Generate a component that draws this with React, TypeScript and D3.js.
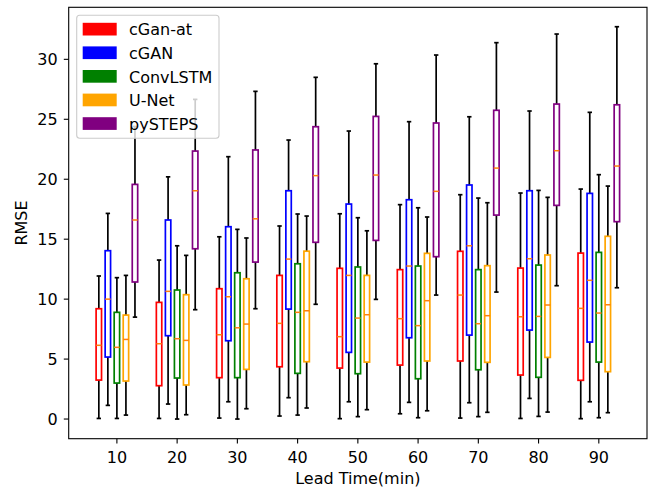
import React from "react";
import * as d3 from "d3";

// lead times (min)
const leadTimes = [10, 20, 30, 40, 50, 60, 70, 80, 90];
const models = ["cGan-at", "cGAN", "ConvLSTM", "U-Net", "pySTEPS"];
const colors = ["red", "blue", "green", "orange", "purple"];
const offsets = [-3, -1.5, 0, 1.5, 3];

// each row: [whiskerLow, q1, median, q3, whiskerHigh]
const cGanAt = [
  [0.05, 3.25, 6.15, 9.2, 11.93],
  [0.05, 2.78, 6.28, 9.73, 13.26],
  [0.08, 3.45, 7.03, 10.87, 15.2],
  [0.25, 4.36, 7.98, 11.98, 16.1],
  [0.03, 4.25, 6.87, 12.57, 17.12],
  [0.44, 4.5, 8.37, 12.46, 17.88],
  [0.08, 4.84, 10.34, 13.99, 18.71],
  [0.05, 3.67, 8.53, 12.59, 18.85],
  [0.03, 3.23, 9.23, 13.84, 19.18],
];
const cGAN = [
  [1.14, 5.17, 10.0, 14.04, 17.15],
  [1.25, 6.95, 10.65, 16.6, 20.2],
  [1.44, 6.53, 10.2, 16.04, 21.88],
  [1.78, 9.17, 13.34, 19.04, 23.27],
  [1.44, 5.56, 11.98, 17.93, 24.02],
  [1.39, 6.78, 12.76, 18.29, 24.8],
  [1.36, 7.0, 14.45, 19.52, 25.21],
  [1.72, 7.42, 13.37, 19.04, 25.69],
  [1.44, 6.42, 11.57, 18.82, 25.58],
];
const convLSTM = [
  [0.05, 3.0, 5.98, 8.9, 11.79],
  [0.0, 3.42, 6.7, 10.76, 14.45],
  [0.0, 3.45, 7.61, 12.2, 15.82],
  [0.33, 3.81, 8.9, 12.95, 17.1],
  [0.2, 3.78, 8.42, 12.68, 16.79],
  [0.11, 3.36, 7.79, 12.76, 17.62],
  [0.2, 4.11, 7.95, 12.46, 18.43],
  [0.22, 3.48, 8.56, 12.84, 19.07],
  [0.11, 4.75, 8.84, 13.9, 20.38],
];
const uNet = [
  [0.33, 3.17, 6.64, 8.67, 11.98],
  [0.36, 2.84, 6.56, 10.37, 13.65],
  [0.86, 4.14, 7.92, 11.7, 15.1],
  [0.92, 4.78, 9.03, 14.0, 16.93],
  [0.78, 4.75, 8.7, 11.98, 15.7],
  [0.69, 4.84, 9.87, 13.82, 16.85],
  [0.56, 4.73, 8.62, 12.79, 18.04],
  [0.58, 5.14, 9.51, 13.68, 18.49],
  [0.53, 3.95, 9.53, 15.24, 19.43],
];
const pySTEPS = [
  [8.5, 11.43, 16.6, 19.57, 24.4],
  [9.12, 14.2, 19.04, 22.35, 26.66],
  [9.2, 13.09, 16.7, 22.44, 27.33],
  [9.57, 14.74, 20.3, 24.38, 28.5],
  [9.98, 14.9, 20.35, 25.24, 29.63],
  [10.34, 13.54, 18.99, 24.69, 30.36],
  [10.59, 17.01, 20.93, 25.75, 31.39],
  [11.12, 17.82, 22.38, 26.27, 32.11],
  [10.95, 16.46, 21.1, 26.21, 32.72],
];
const series = [cGanAt, cGAN, convLSTM, uNet, pySTEPS];

const yTicks = [0, 5, 10, 15, 20, 25, 30];

const width = 654;
const height = 490;
const margin = { top: 7.3, right: 7, bottom: 51.3, left: 68.7 };
const font = "DejaVu Sans, sans-serif";
const fs = 16;
const boxW = 0.9;

export default function App() {
  const x = d3
    .scaleLinear()
    .domain([2, 98])
    .range([margin.left, width - margin.right]);
  const y = d3
    .scaleLinear()
    .domain([-1.64, 34.34])
    .range([height - margin.bottom, margin.top]);
  const bw = x(boxW) - x(0);
  const capW = bw / 2;
  const x0 = margin.left;
  const x1 = width - margin.right;
  const y0 = height - margin.bottom;
  const y1 = margin.top;

  var boxes: any[] = [];
  series.forEach((rows, si) => {
    rows.forEach((d, i) => {
      const cx = x(leadTimes[i] + offsets[si]);
      const [lo, q1, med, q3, hi] = d;
      boxes.push(
        <g key={`${si}-${i}`}>
          <line x1={cx} x2={cx} y1={y(q1)} y2={y(lo)} stroke="black" strokeWidth={1.7} />
          <line x1={cx} x2={cx} y1={y(q3)} y2={y(hi)} stroke="black" strokeWidth={1.7} />
          <line x1={cx - capW / 2} x2={cx + capW / 2} y1={y(lo)} y2={y(lo)} stroke="black" strokeWidth={1.7} strokeLinecap="square" />
          <line x1={cx - capW / 2} x2={cx + capW / 2} y1={y(hi)} y2={y(hi)} stroke="black" strokeWidth={1.7} strokeLinecap="square" />
          <rect x={cx - bw / 2} y={y(q3)} width={bw} height={y(q1) - y(q3)} fill="white" stroke={colors[si]} strokeWidth={1.7} />
          <line x1={cx - bw / 2} x2={cx + bw / 2} y1={y(med)} y2={y(med)} stroke="#ff7f0e" strokeWidth={1.5} />
        </g>
      );
    });
  });

  // legend
  const lg = { x: 76.7, y: 15.3, w: 142.3, h: 123 };
  const rowH = 23.6;

  return (
    <div style={{ position: "absolute", left: 0, top: 0 }}>
      <svg width={width} height={height} style={{ display: "block", background: "white" }}>
        {boxes}
        {/* axes frame */}
        <rect x={x0} y={y1} width={x1 - x0} height={y0 - y1} fill="none" stroke="black" strokeWidth={1.1} />
        {leadTimes.map((t) => (
          <g key={"xt" + t}>
            <line x1={x(t)} x2={x(t)} y1={y0} y2={y0 + 4.9} stroke="black" strokeWidth={1.1} />
            <text x={x(t)} y={y0 + 24} textAnchor="middle" fontFamily={font} fontSize={fs} fill="black">
              {t}
            </text>
          </g>
        ))}
        {yTicks.map((t) => (
          <g key={"yt" + t}>
            <line x1={x0} x2={x0 - 4.9} y1={y(t)} y2={y(t)} stroke="black" strokeWidth={1.1} />
            <text x={x0 - 11} y={y(t) + 5.8} textAnchor="end" fontFamily={font} fontSize={fs} fill="black">
              {t}
            </text>
          </g>
        ))}
        <text x={(x0 + x1) / 2} y={484} textAnchor="middle" fontFamily={font} fontSize={fs} fill="black">
          Lead Time(min)
        </text>
        <text
          transform={`translate(27,${(y0 + y1) / 2}) rotate(-90)`}
          textAnchor="middle"
          fontFamily={font}
          fontSize={fs}
          fill="black"
        >
          RMSE
        </text>
        {/* legend */}
        <rect x={lg.x} y={lg.y} width={lg.w} height={lg.h} rx={3} fill="white" fillOpacity={0.8} stroke="#cccccc" strokeWidth={1.1} />
        {models.map((m, i) => (
          <g key={m}>
            <rect x={82.7} y={lg.y + 7.5 + i * rowH} width={34} height={12.7} fill={colors[i]} />
            <text x={129} y={lg.y + 20 + i * rowH} fontFamily={font} fontSize={fs} fill="black">
              {m}
            </text>
          </g>
        ))}
      </svg>
    </div>
  );
}
